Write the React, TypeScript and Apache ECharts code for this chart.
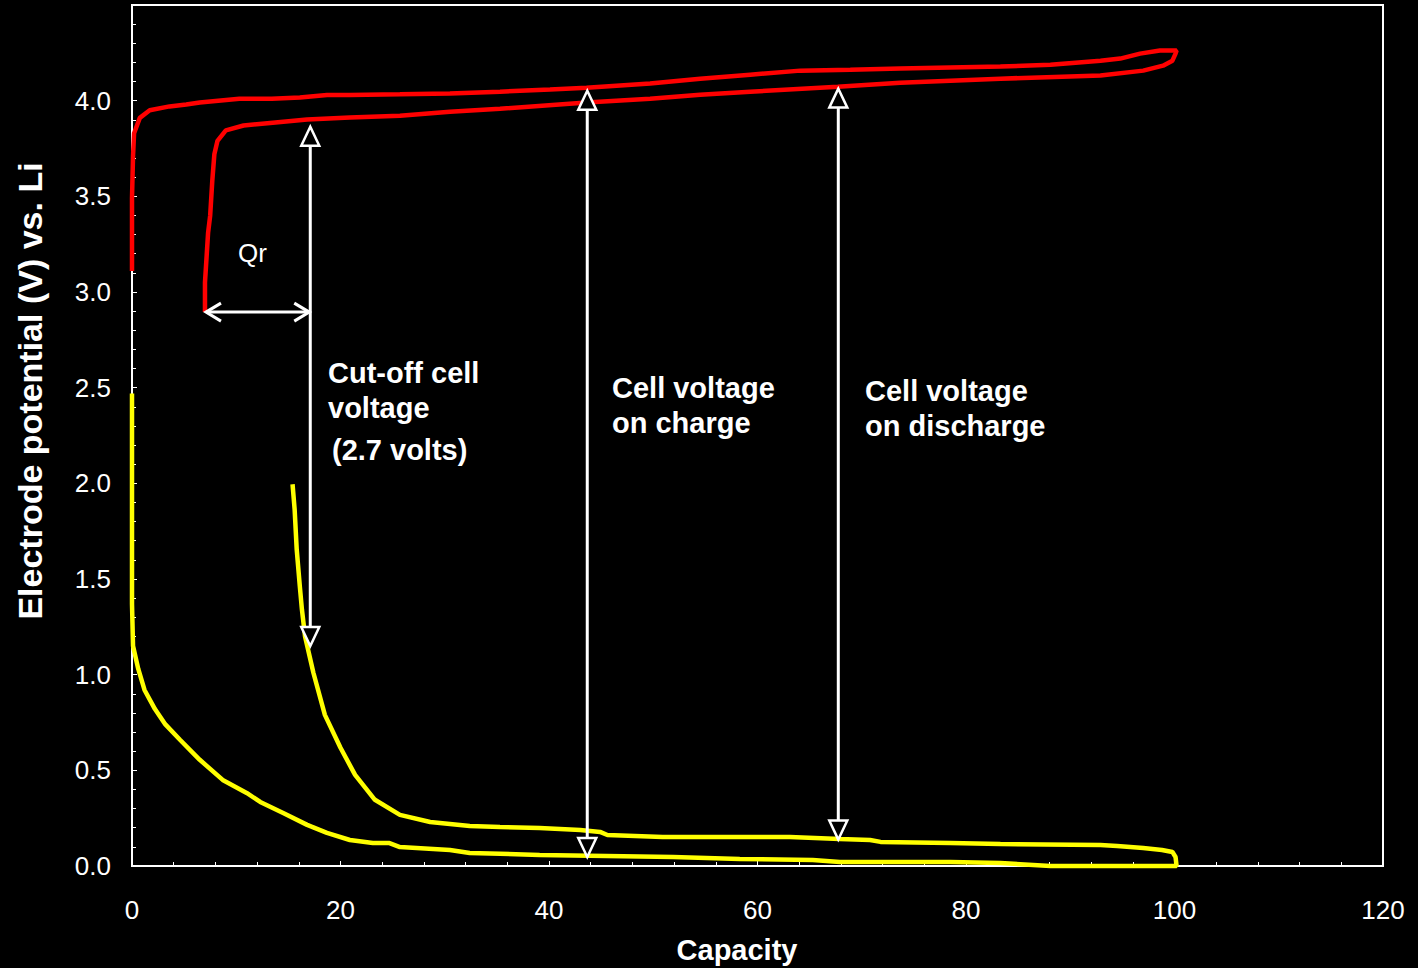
import React, { useEffect, useRef } from "react";
import * as echarts from "echarts";

// Positive electrode (red): charge then discharge, [capacity, potential]
const positiveElectrode: number[][] = [
  [0, 3.11], [0, 3.49], [0.1, 3.71], [0.2, 3.83], [0.75, 3.91], [1.7, 3.95], [3.6, 3.97],
  [5.2, 3.98], [6.5, 3.99], [10.3, 4.01], [13.4, 4.01], [16.1, 4.017], [18.7, 4.03],
  [20.9, 4.03], [25.7, 4.033], [30.5, 4.037], [35.3, 4.047], [40.1, 4.058], [43.6, 4.068],
  [49.7, 4.09], [54.5, 4.115], [59.3, 4.136], [64.1, 4.157], [68.9, 4.162], [73.7, 4.168],
  [78.5, 4.173], [83.3, 4.178], [88.1, 4.188], [92.9, 4.209], [94.8, 4.22], [96.7, 4.246],
  [98.6, 4.262], [100.2, 4.262],
  [100.1, 4.246], [99.8, 4.209], [98.9, 4.183], [97.0, 4.157], [92.9, 4.131], [83.3, 4.115],
  [73.7, 4.094], [67.7, 4.073], [59.3, 4.047], [54.5, 4.031], [49.7, 4.01], [43.6, 3.99],
  [35.3, 3.958], [30.5, 3.942], [25.7, 3.921], [20.9, 3.912], [16.8, 3.902], [13.5, 3.885],
  [10.7, 3.87], [9.0, 3.845], [8.2, 3.79], [7.9, 3.72], [7.7, 3.58], [7.5, 3.40],
  [7.3, 3.31], [7.0, 3.05], [7.0, 2.895],
];

// Negative electrode (yellow): charge then discharge, [capacity, potential]
const negativeElectrode: number[][] = [
  [0, 2.47], [0, 1.8], [0, 1.37], [0.1, 1.15], [0.6, 1.03], [1.2, 0.92], [2.2, 0.82],
  [3.2, 0.74], [4.6, 0.66], [6.5, 0.555], [8.7, 0.45], [11.0, 0.382], [12.3, 0.335],
  [14.5, 0.277], [16.8, 0.215], [18.7, 0.173], [20.9, 0.136], [23.1, 0.12], [24.7, 0.12],
  [25.7, 0.099], [30.5, 0.084], [32.4, 0.068], [39.1, 0.058], [51.9, 0.047], [58.3, 0.037],
  [65.3, 0.031], [67.9, 0.021], [78.5, 0.021], [83.3, 0.016], [88.1, 0.0], [100.2, 0.0],
  [100.1, 0.047], [99.8, 0.073], [98.8, 0.084], [97.0, 0.094], [94.5, 0.105], [92.9, 0.11],
  [83.3, 0.115], [78.5, 0.12], [71.8, 0.126], [70.8, 0.136], [67.9, 0.141], [63.1, 0.152],
  [50.9, 0.152], [45.6, 0.162], [44.9, 0.178], [43.0, 0.188], [39.1, 0.199], [35.3, 0.204],
  [32.4, 0.209], [28.6, 0.23], [25.7, 0.267], [23.3, 0.346], [21.4, 0.476], [20.0, 0.618],
  [18.5, 0.79], [17.4, 1.01], [16.6, 1.2], [16.3, 1.34], [16.1, 1.46], [15.8, 1.654],
  [15.6, 1.864], [15.4, 1.995],
];

// Vertical double arrows: [capacity, top potential, bottom potential]
const voltageArrows: number[][] = [
  [17.1, 3.864, 1.15],
  [43.67, 4.052, 0.047],
  [67.75, 4.063, 0.138],
];

// Horizontal Qr arrow: [capacity from, capacity to, potential]
const qrArrow: number[][] = [[7.0, 17.1, 2.895]];

const xTicks = { min: 0, max: 120, interval: 20 };
const yTicks = { min: 0, max: 4.5, interval: 0.5 };

const FONT = "'Liberation Sans', Arial, sans-serif";

export default function App() {
  const ref = useRef<HTMLDivElement>(null);

  useEffect(() => {
    if (!ref.current) return;
    const chart = echarts.init(ref.current, undefined, { renderer: "svg" });

    const tri = (tipX: number, tipY: number, dir: number) => {
      // dir = -1 pointing up, +1 pointing down
      const h = 19, w = 9;
      return [
        [tipX, tipY],
        [tipX - w, tipY - dir * h],
        [tipX + w, tipY - dir * h],
      ];
    };

    const option: any = {
      animation: false,
      backgroundColor: "#000",
      grid: {
        left: 132, right: 35, top: 5, bottom: 102,
        show: true, borderColor: "#ffffff", borderWidth: 2, backgroundColor: "transparent",
      },
      xAxis: {
        type: "value",
        min: xTicks.min, max: xTicks.max, interval: xTicks.interval,
        axisLine: { show: true, lineStyle: { color: "#fff", width: 2 } },
        axisTick: { show: true, inside: true, length: 5, lineStyle: { color: "#fff", width: 1 } },
        minorTick: { show: true, splitNumber: 5, length: 4, lineStyle: { color: "#fff", width: 1 } },
        splitLine: { show: false },
        axisLabel: { color: "#fff", fontSize: 26, fontFamily: FONT, margin: 31 },
      },
      yAxis: {
        type: "value",
        min: yTicks.min, max: yTicks.max, interval: yTicks.interval,
        axisLine: { show: true, lineStyle: { color: "#fff", width: 2 } },
        axisTick: { show: true, inside: true, length: 5, lineStyle: { color: "#fff", width: 1 } },
        minorTick: { show: true, splitNumber: 5, length: 4, lineStyle: { color: "#fff", width: 1 } },
        splitLine: { show: false },
        axisLabel: {
          color: "#fff", fontSize: 26, fontFamily: FONT, margin: 21,
          formatter: (v: number) => (v > 4.01 ? "" : v.toFixed(1)),
        },
      },
      series: [
        {
          type: "line",
          data: positiveElectrode,
          showSymbol: false,
          clip: false,
          lineStyle: { color: "#ff0000", width: 4.5 },
          z: 3,
        },
        {
          type: "line",
          data: negativeElectrode,
          showSymbol: false,
          clip: false,
          lineStyle: { color: "#ffff00", width: 4.5 },
          z: 3,
        },
        {
          type: "custom",
          data: voltageArrows,
          encode: { x: 0, y: [1, 2] },
          z: 5,
          clip: false,
          renderItem: (params: any, api: any) => {
            const top = api.coord([api.value(0), api.value(1)]);
            const bot = api.coord([api.value(0), api.value(2)]);
            const x = top[0];
            return {
              type: "group",
              children: [
                {
                  type: "line",
                  shape: { x1: x, y1: top[1] + 19, x2: x, y2: bot[1] - 19 },
                  style: { stroke: "#fff", lineWidth: 3 },
                },
                {
                  type: "polygon",
                  shape: { points: tri(x, top[1], -1) },
                  style: { fill: "#000", stroke: "#fff", lineWidth: 2.5 },
                },
                {
                  type: "polygon",
                  shape: { points: tri(x, bot[1], 1) },
                  style: { fill: "#000", stroke: "#fff", lineWidth: 2.5 },
                },
              ],
            };
          },
        },
        {
          type: "custom",
          data: qrArrow,
          encode: { x: [0, 1], y: 2 },
          z: 5,
          clip: false,
          renderItem: (params: any, api: any) => {
            const a = api.coord([api.value(0), api.value(2)]);
            const b = api.coord([api.value(1), api.value(2)]);
            const y = a[1];
            return {
              type: "group",
              children: [
                {
                  type: "line",
                  shape: { x1: a[0] + 1, y1: y, x2: b[0] - 1, y2: y },
                  style: { stroke: "#fff", lineWidth: 3 },
                },
                {
                  type: "polyline",
                  shape: { points: [[a[0] + 16, y - 9], [a[0] + 1, y], [a[0] + 16, y + 9]] },
                  style: { stroke: "#fff", lineWidth: 3, fill: "none" },
                },
                {
                  type: "polyline",
                  shape: { points: [[b[0] - 16, y - 9], [b[0] - 1, y], [b[0] - 16, y + 9]] },
                  style: { stroke: "#fff", lineWidth: 3, fill: "none" },
                },
              ],
            };
          },
        },
      ],
      graphic: [
        {
          type: "text", x: 30, y: 391, rotation: Math.PI / 2,
          style: {
            text: "Electrode potential (V) vs. Li", fill: "#fff", font: `bold 34px ${FONT}`,
            align: "center", verticalAlign: "middle",
          },
        },
        {
          type: "text", x: 737, y: 950,
          style: {
            text: "Capacity", fill: "#fff", font: `bold 29px ${FONT}`,
            align: "center", verticalAlign: "middle",
          },
        },
        { type: "text", x: 238, y: 253, style: { text: "Qr", fill: "#fff", font: `26px ${FONT}`, verticalAlign: "middle" } },
        { type: "text", x: 328, y: 373, style: { text: "Cut-off cell", fill: "#fff", font: `bold 29px ${FONT}`, verticalAlign: "middle" } },
        { type: "text", x: 328, y: 408, style: { text: "voltage", fill: "#fff", font: `bold 29px ${FONT}`, verticalAlign: "middle" } },
        { type: "text", x: 332, y: 450, style: { text: "(2.7 volts)", fill: "#fff", font: `bold 29px ${FONT}`, verticalAlign: "middle" } },
        { type: "text", x: 612, y: 388, style: { text: "Cell voltage", fill: "#fff", font: `bold 29px ${FONT}`, verticalAlign: "middle" } },
        { type: "text", x: 612, y: 423, style: { text: "on charge", fill: "#fff", font: `bold 29px ${FONT}`, verticalAlign: "middle" } },
        { type: "text", x: 865, y: 391, style: { text: "Cell voltage", fill: "#fff", font: `bold 29px ${FONT}`, verticalAlign: "middle" } },
        { type: "text", x: 865, y: 426, style: { text: "on discharge", fill: "#fff", font: `bold 29px ${FONT}`, verticalAlign: "middle" } },
      ],
    };

    chart.setOption(option);
    return () => chart.dispose();
  }, []);

  return (
    <div
      ref={ref}
      style={{ position: "absolute", left: 0, top: 0, width: 1418, height: 968, background: "#000" }}
    />
  );
}
